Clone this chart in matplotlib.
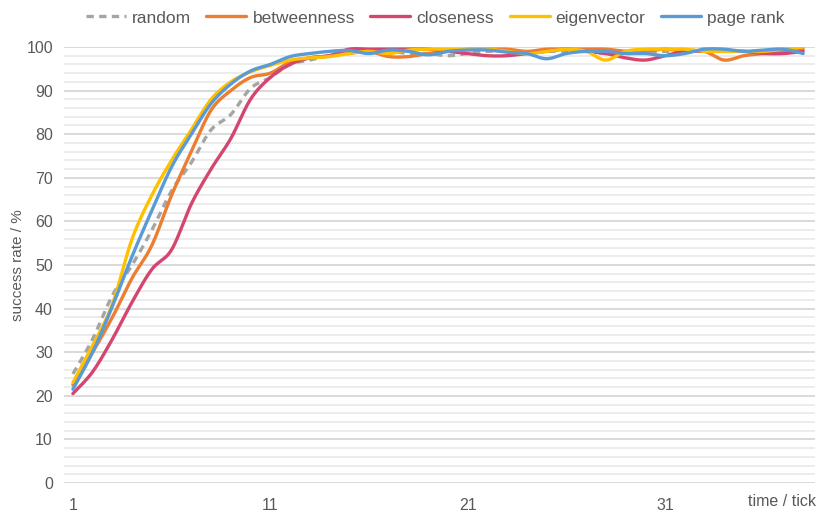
import numpy as np
import matplotlib
matplotlib.use("Agg")
import matplotlib.pyplot as plt
from matplotlib.ticker import MultipleLocator

plt.rcParams['font.family'] = ['Liberation Sans', 'DejaVu Sans']

ticks = list(range(1, 39))
random_ = [25, 33, 43, 50, 58, 67, 73.5, 81, 84.5, 90.5, 93, 96, 97, 98, 98.5, 99, 99, 98.5, 98.5, 98,
           98.5, 99, 99, 98.5, 99, 99, 99, 98.5, 99, 98.5, 99, 99, 99.5, 99, 99, 99, 99, 99.5]
betweenness = [22.5, 30, 38, 47, 54.5, 66, 76, 85.5, 90, 93, 94, 96.5, 97.5, 98, 99, 99, 97.8, 97.8, 98.5, 99,
               99.5, 99.5, 99.5, 99, 99.5, 99.5, 99.5, 99.5, 99, 99, 99.5, 99, 99, 97, 98, 98.5, 99, 99.5]
closeness = [20.5, 25.5, 33, 41.5, 49, 53.5, 64, 72, 79, 88, 93, 96, 97.5, 98, 99.5, 99.5, 99.5, 99.5, 99.5, 99,
             98.5, 98, 98, 98.5, 99, 99.5, 99, 98.5, 97.5, 97, 98, 99, 99, 99, 99, 98.5, 98.5, 99]
eigenvector = [23, 31.5, 41, 56, 66, 74, 81, 88, 92, 94.3, 95.8, 97, 97.5, 97.8, 98.5, 99, 98.5, 99.3, 99.5, 99.5,
               99.5, 99.5, 99, 98.5, 99, 99.5, 99, 97, 99, 99.5, 99.5, 99.5, 99, 99, 99, 99, 99.5, 100]
page_rank = [21.5, 30, 40.5, 52, 62.5, 72.5, 80, 87, 91.5, 94.5, 96, 97.8, 98.5, 99, 99.2, 98.5, 99.3, 99, 98.2, 99,
             99.3, 99.3, 98.8, 98.5, 97.3, 98.5, 99, 99, 98.5, 98.5, 98, 98.5, 99.5, 99.5, 99, 99.3, 99.5, 98.5]

series_names = ["random", "betweenness", "closeness", "eigenvector", "page rank"]
series_values = [random_, betweenness, closeness, eigenvector, page_rank]
colors = ["#A5A5A5", "#ED7D31", "#D5466F", "#FFC000", "#5B9BD5"]
styles = [(0, (2.2, 1.6)), "-", "-", "-", "-"]
xtick_labels = ["1", "11", "21", "31"]


def smooth(x, y, n=24):
    x = np.asarray(x, float)
    y = np.asarray(y, float)
    px = np.concatenate([[x[0]], x, [x[-1]]])
    py = np.concatenate([[y[0]], y, [y[-1]]])
    t = np.linspace(0, 1, n)[:-1]
    xs, ys = [], []
    for i in range(1, len(px) - 2):
        p0x, p1x, p2x, p3x = px[i], px[i] + (px[i + 1] - px[i - 1]) / 6, px[i + 1] - (px[i + 2] - px[i]) / 6, px[i + 1]
        p0y, p1y, p2y, p3y = py[i], py[i] + (py[i + 1] - py[i - 1]) / 6, py[i + 1] - (py[i + 2] - py[i]) / 6, py[i + 1]
        b0 = (1 - t) ** 3
        b1 = 3 * (1 - t) ** 2 * t
        b2 = 3 * (1 - t) * t ** 2
        b3 = t ** 3
        xs.append(b0 * p0x + b1 * p1x + b2 * p2x + b3 * p3x)
        ys.append(b0 * p0y + b1 * p1y + b2 * p2y + b3 * p3y)
    xs.append([x[-1]])
    ys.append([y[-1]])
    return np.concatenate(xs), np.concatenate(ys)


fig = plt.figure(figsize=(8.29, 5.17), dpi=100)
ax = fig.add_axes([64 / 829, 34 / 517, 751 / 829, 436 / 517])

for name, vals, c, ls in zip(series_names, series_values, colors, styles):
    sx, sy = smooth(ticks, vals)
    ax.plot(sx, sy, color=c, lw=2.4, ls=ls, label=name, solid_capstyle="round",
            dash_capstyle="butt")

ax.set_xlim(0.55, 38.6)
ax.set_ylim(0, 100)
ax.yaxis.set_major_locator(MultipleLocator(10))
ax.yaxis.set_minor_locator(MultipleLocator(2))
ax.set_xticks([1, 11, 21, 31])
ax.set_xticklabels(xtick_labels)
ax.grid(which="major", axis="y", color="#D9D9D9", lw=1.4, zorder=0)
ax.grid(which="minor", axis="y", color="#ECECEC", lw=1.4, zorder=0)
ax.set_axisbelow(True)
for s in ax.spines.values():
    s.set_visible(False)
ax.tick_params(axis="both", which="both", length=0, labelsize=11.5, colors="#595959")
ax.tick_params(axis="y", pad=8)
ax.tick_params(axis="x", pad=11)
ax.set_ylabel("success rate / %", fontsize=11, color="#595959", labelpad=1)
fig.text(816 / 829, 1 - 501 / 517, "time / tick", ha="right", va="center", fontsize=11.5, color="#595959")

handles, labels = ax.get_legend_handles_labels()
fig.legend(handles, labels, loc="center", bbox_to_anchor=(0.525, 1 - 18 / 517), ncol=5, frameon=False,
           fontsize=12.5, handlelength=2.3, handletextpad=0.35, columnspacing=0.9, labelcolor="#595959")

fig.savefig("out.png", dpi=100)
